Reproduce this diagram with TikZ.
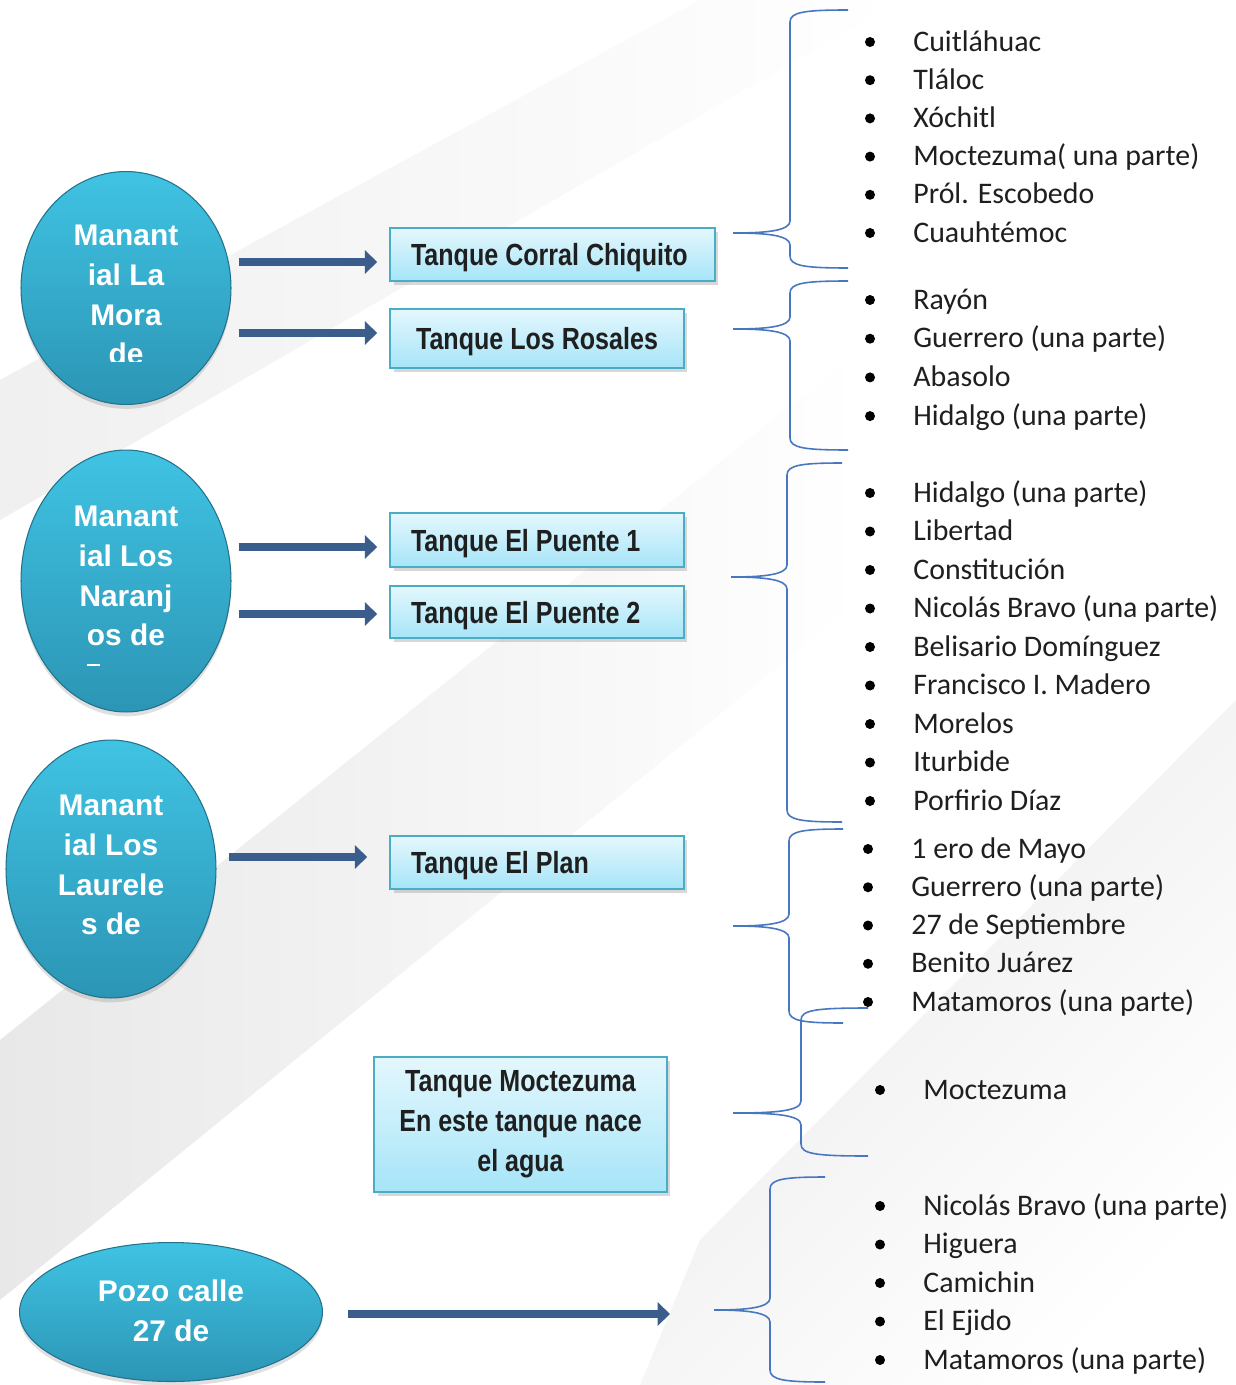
\documentclass[tikz,border=0pt]{standalone}
\usepackage{fontspec}
\setmainfont{Carlito}
\newfontfamily\springfont{Liberation Sans}
\newfontfamily\tankfont{Liberation Sans}[FakeStretch=0.82]
\usetikzlibrary{arrows.meta,shapes.geometric,shadows,calc}

\definecolor{springtop}{HTML}{40C3E3}
\definecolor{springbot}{HTML}{2C95B5}
\definecolor{springedge}{HTML}{23718A}
\definecolor{tanktop}{HTML}{E4F7FD}
\definecolor{tankbot}{HTML}{A6E5F8}
\definecolor{tankedge}{HTML}{4BACC6}
\definecolor{flowblue}{HTML}{3A5D8C}
\definecolor{bracecol}{HTML}{4677C0}

\tikzset{
  spring/.style={ellipse, inner sep=0pt, top color=springtop, bottom color=springbot,
    draw=springedge, line width=0.6pt,
    drop shadow={shadow xshift=0pt, shadow yshift=-2.5pt, opacity=0.25}},
  springtext/.style={text=white, align=center, inner sep=0pt,
    font=\springfont\bfseries\fontsize{17}{22.7}\selectfont},
  tank/.style={rectangle, inner xsep=0pt, inner ysep=0pt, top color=tanktop,
    bottom color=tankbot, draw=tankedge, line width=0.9pt, text=black!88,
    font=\tankfont\bfseries\fontsize{17.4}{22.7}\selectfont,
    drop shadow={shadow xshift=2pt, shadow yshift=-2.5pt, opacity=0.3}},
  tankline/.style={tank, text height=0.5cm, text depth=0.06cm},
  flow/.style={draw=flowblue, line width=4.5pt, -{Triangle[length=7pt,width=13pt]}},
  item/.style={anchor=mid west, inner sep=0pt, yshift=-0.1cm, text=black!88,
    font=\fontsize{17}{20}\selectfont},
  curly/.style={draw=bracecol, line width=0.9pt},
}

% left-set label inside a tank box
\newcommand\tanklabel[2]{\makebox[#1][l]{\hspace{0.42cm}#2}}

% brace: tip x, tip y, spine x, top y, bottom y, end x
\newcommand\listbrace[6]{%
  \draw[curly] (#6,#4) .. controls (#3+15,#4) and (#3,#4+2) .. (#3,#4+12)
    -- (#3,#2-12) .. controls (#3,#2-2) and (#3-25,#2) .. (#1,#2)
    .. controls (#3-25,#2) and (#3,#2+2) .. (#3,#2+12)
    -- (#3,#5-12) .. controls (#3,#5-2) and (#3+15,#5) .. (#6,#5);}

\begin{document}
\begin{tikzpicture}[x=0.02cm, y=-0.02cm]

\useasboundingbox (0,0) rectangle (1236,1385);
\fill[white] (0,0) rectangle (1236,1385);

% background streaks
\shade[left color=black!6, right color=white]
  (0,380) -- (700,0) -- (900,0) -- (0,520) -- cycle;
\shade[left color=black!9, right color=white]
  (0,1040) -- (860,350) -- (860,600) -- (0,1300) -- cycle;
\shade[top color=black!8, bottom color=white, shading angle=45]
  (640,1385) -- (700,1240) -- (1236,700) -- (1236,1385) -- cycle;

% springs
\node[spring, minimum width=4.2cm, minimum height=4.66cm] (mora) at (126,288) {};
\node[spring, minimum width=4.2cm, minimum height=5.24cm] (naranjos) at (126,581) {};
\node[spring, minimum width=4.2cm, minimum height=5.16cm] (laureles) at (111,869) {};
\node[spring, minimum width=6.06cm, minimum height=2.78cm] (pozo) at (171,1312) {};

\begin{scope}
  \clip (0,0) rectangle (1236,361);
  \node[springtext] (moraText) at (126,295) {Manant\\ial La\\Mora\\de};
\end{scope}
\node[springtext] (naranjosText) at (126,576) {Manant\\ial Los\\Naranj\\os de};
\draw[white, line width=1pt] (87,665) -- (100,665);
\node[springtext] (laurelesText) at (111,865) {Manant\\ial Los\\Laurele\\s de};
\node[springtext] (pozoText) at (171,1311) {Pozo calle\\27 de};

% tanks
\node[tankline, minimum width=6.5cm, minimum height=1.06cm]
  (corral) at (552.5,254.5) {\tanklabel{6.5cm}{Tanque Corral Chiquito}};
\node[tankline, minimum width=5.88cm, minimum height=1.18cm]
  (rosales) at (537,338.5) {Tanque Los Rosales};
\node[tankline, minimum width=5.88cm, minimum height=1.08cm]
  (puente1) at (537,540) {\tanklabel{5.88cm}{Tanque El Puente 1}};
\node[tankline, minimum width=5.88cm, minimum height=1.04cm]
  (puente2) at (537,612) {\tanklabel{5.88cm}{Tanque El Puente 2}};
\node[tankline, minimum width=5.88cm, minimum height=1.06cm]
  (plan) at (537,862.5) {\tanklabel{5.88cm}{Tanque El Plan}};
\node[tank, minimum width=5.86cm, minimum height=2.7cm, align=center]
  (moctezuma) at (520.5,1124.5) {Tanque Moctezuma\\En este tanque nace\\el agua};

% arrows
\draw[flow] ($(mora.east |- corral.west)+(7,7.5)$) -- ($(corral.west)+(-12,7.5)$);
\draw[flow] ($(mora.east |- rosales.west)+(7,-5.5)$) -- ($(rosales.west)+(-12,-5.5)$);
\draw[flow] ($(naranjos.east |- puente1.west)+(7,7)$) -- ($(puente1.west)+(-12,7)$);
\draw[flow] ($(naranjos.east |- puente2.west)+(7,2)$) -- ($(puente2.west)+(-12,2)$);
\draw[flow] ($(laureles.east |- plan.west)+(12,-5.5)$) -- ($(plan.west)+(-22,-5.5)$);
\coordinate (pozoEnd) at (670,1314);
\draw[flow] ($(pozo.east |- pozoEnd)+(25,0)$) -- (pozoEnd);

% braces
\listbrace{733}{233}{790}{10}{268}{848}
\listbrace{733}{329}{790}{281}{450}{848}
\listbrace{731}{577}{787}{463}{822}{842}
\listbrace{733}{926}{789}{829}{1023}{843}
\listbrace{733}{1113}{801}{1008}{1156}{868}
\listbrace{714}{1310}{770}{1177}{1382}{825}

% colonias
\foreach \name [count=\i from 0] in {Cuitláhuac,Tláloc,Xóchitl,Moctezuma( una parte),Pról. Escobedo,Cuauhtémoc}{
  \node[item] (corral\i) at (913,{42+38.2*\i}) {\name};
  \fill (870,{42+38.2*\i}) circle (0.1cm);
}
\foreach \name [count=\i from 0] in {Rayón,Guerrero (una parte),Abasolo,Hidalgo (una parte)}{
  \node[item] (rosales\i) at (913,{300+38.7*\i}) {\name};
  \fill (870,{300+38.7*\i}) circle (0.1cm);
}
\foreach \name [count=\i from 0] in {Hidalgo (una parte),Libertad,Constitución,Nicolás Bravo (una parte),Belisario Domínguez,Francisco I. Madero,Morelos,Iturbide,Porfirio Díaz}{
  \node[item] (puente\i) at (913,{493+38.5*\i}) {\name};
  \fill (870,{493+38.5*\i}) circle (0.1cm);
}
\foreach \name [count=\i from 0] in {1 ero de Mayo,Guerrero (una parte),27 de Septiembre,Benito Juárez,Matamoros (una parte)}{
  \node[item] (plan\i) at (911,{849+38.25*\i}) {\name};
  \fill (868,{849+38.25*\i}) circle (0.1cm);
}
\node[item] (moctezuma0) at (923,1090) {Moctezuma};
\fill (880,1090) circle (0.1cm);
\foreach \name [count=\i from 0] in {Nicolás Bravo (una parte),Higuera,Camichin,El Ejido,Matamoros (una parte)}{
  \node[item] (pozo\i) at (923,{1206+38.5*\i}) {\name};
  \fill (880,{1206+38.5*\i}) circle (0.1cm);
}

\end{tikzpicture}
\end{document}
